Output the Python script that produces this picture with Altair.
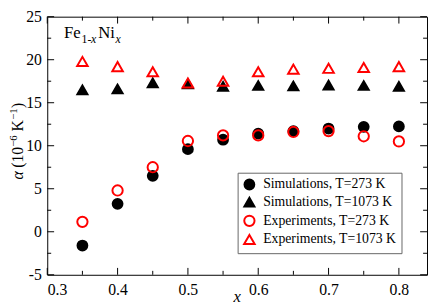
import altair as alt
import pandas as pd

# ---- data ----
x_vals = [0.35, 0.40, 0.45, 0.50, 0.55, 0.60, 0.65, 0.70, 0.75, 0.80]
sim_273 = [-1.6, 3.25, 6.5, 9.6, 10.7, 11.4, 11.7, 12.0, 12.2, 12.25]
sim_1073 = [16.5, 16.6, 17.3, 17.2, 16.9, 17.0, 16.95, 17.05, 17.0, 16.9]
exp_273 = [1.15, 4.8, 7.5, 10.55, 11.2, 11.2, 11.6, 11.7, 11.1, 10.5]
exp_1073 = [19.8, 19.2, 18.6, 17.3, 17.5, 18.6, 18.9, 19.0, 19.1, 19.2]

series_names = [
    "Simulations, T=273 K",
    "Simulations, T=1073 K",
    "Experiments, T=273 K",
    "Experiments, T=1073 K",
]
series_values = [sim_273, sim_1073, exp_273, exp_1073]

x_major = [0.3, 0.4, 0.5, 0.6, 0.7, 0.8]
x_minor = [0.35, 0.45, 0.55, 0.65, 0.75]
y_major = [-5, 0, 5, 10, 15, 20, 25]
y_minor = [-2.5, 2.5, 7.5, 12.5, 17.5, 22.5]

X_DOMAIN = [0.3, 0.84]
Y_DOMAIN = [-5, 25]
W, H = 387, 263
FONT = "Liberation Serif"

rows = []
for i, (name, vals) in enumerate(zip(series_names, series_values)):
    for xv, yv in zip(x_vals, vals):
        rows.append({"x": xv, "alpha": yv, "series": name, "ord": i})
df = pd.DataFrame(rows)

xs = alt.Scale(domain=X_DOMAIN, nice=False, zero=False)
ys = alt.Scale(domain=Y_DOMAIN, nice=False, zero=False)

x_axis = alt.Axis(values=x_major, labelExpr="format(datum.value, '.1f')", title=None)
y_axis = alt.Axis(values=y_major, labelExpr="toString(datum.value)", title=None)

points = alt.Chart(df).mark_point(filled=True, strokeWidth=2, opacity=1).encode(
    x=alt.X("x:Q", scale=xs, axis=x_axis),
    y=alt.Y("alpha:Q", scale=ys, axis=y_axis),
    shape=alt.Shape("series:N", scale=alt.Scale(domain=series_names,
                    range=["circle", "triangle-up", "circle", "triangle-up"]),
                    legend=alt.Legend(title=None)),
    fill=alt.Fill("series:N", scale=alt.Scale(domain=series_names,
                  range=["black", "black", "transparent", "transparent"]),
                  legend=alt.Legend(title=None)),
    stroke=alt.Stroke("series:N", scale=alt.Scale(domain=series_names,
                      range=["black", "black", "red", "red"]),
                      legend=alt.Legend(title=None)),
    size=alt.Size("series:N", scale=alt.Scale(domain=series_names,
                  range=[100, 115, 121, 150]),
                  legend=alt.Legend(title=None)),
    order=alt.Order("ord:Q"),
)

# ---- inward ticks drawn as line-shaped point symbols at the tick values ----
def tick_points(tx, ty, path, size):
    d = pd.DataFrame({"x": tx, "alpha": ty})
    return alt.Chart(d).mark_point(
        shape=path, size=size, filled=False, stroke="black",
        strokeWidth=1, opacity=1
    ).encode(
        x=alt.X("x:Q", scale=xs, axis=x_axis),
        y=alt.Y("alpha:Q", scale=ys, axis=y_axis),
    )

MAJ, MIN = 196, 64   # symbol sizes -> 7 px and 4 px long ticks
tick_layers = [
    tick_points(x_major, [Y_DOMAIN[0]] * len(x_major), "M0,0L0,-1", MAJ),
    tick_points(x_minor, [Y_DOMAIN[0]] * len(x_minor), "M0,0L0,-1", MIN),
    tick_points(x_major, [Y_DOMAIN[1]] * len(x_major), "M0,0L0,1", MAJ),
    tick_points(x_minor, [Y_DOMAIN[1]] * len(x_minor), "M0,0L0,1", MIN),
    tick_points([X_DOMAIN[0]] * len(y_major), y_major, "M0,0L1,0", MAJ),
    tick_points([X_DOMAIN[0]] * len(y_minor), y_minor, "M0,0L1,0", MIN),
    tick_points([X_DOMAIN[1]] * len(y_major), y_major, "M0,0L-1,0", MAJ),
    tick_points([X_DOMAIN[1]] * len(y_minor), y_minor, "M0,0L-1,0", MIN),
]

# ---- y-axis title pieces: alpha (10^-6 K^-1) ----
title_pieces = [
    ("α", 16, "italic", 0, 0),
    ("(10", 16, "normal", 12, 0),
    ("−6", 11, "normal", 33.5, -6),
    ("K", 16, "normal", 49, 0),
    ("−1", 11, "normal", 61, -6),
    (")", 16, "normal", 73, 0),
]
title_layers = [
    alt.Chart(pd.DataFrame({"a": [0]})).mark_text(
        text=t, font=FONT, fontSize=s, fontStyle=st, angle=270, align="left",
        baseline="alphabetic", dx=dx, dy=dy, color="black"
    ).encode(x=alt.value(-25), y=alt.value(166))
    for t, s, st, dx, dy in title_pieces
]

# ---- x-axis title ----
xtitle = alt.Chart(pd.DataFrame({"a": [0]})).mark_text(
    text="x", font=FONT, fontSize=17, fontStyle="italic", align="center",
    baseline="alphabetic", color="black"
).encode(x=alt.value(W / 2), y=alt.value(H + 28))

# ---- annotation Fe_{1-x}Ni_x ----
ann_pieces = [
    ("Fe", 17, "normal", 0, 0),
    ("1-", 12, "normal", 18, 5),
    ("x", 12, "italic", 27.5, 5),
    ("Ni", 17, "normal", 35, 0),
    ("x", 12, "italic", 52.5, 5),
]
ann_layers = [
    alt.Chart(pd.DataFrame({"a": [0]})).mark_text(
        text=t, font=FONT, fontSize=s, fontStyle=st, align="left",
        baseline="alphabetic", dx=dx, dy=dy, color="black"
    ).encode(x=alt.value(17), y=alt.value(22))
    for t, s, st, dx, dy in ann_pieces
]

chart = alt.layer(points, *tick_layers, *title_layers, xtitle, *ann_layers).properties(
    width=W, height=H,
    autosize=alt.AutoSizeParams(type="none"),
    padding={"left": 40, "top": 6, "right": 1, "bottom": 31},
).configure_view(
    stroke="black", strokeWidth=1
).configure_axis(
    labelFont=FONT, labelFontSize=16, labelColor="black",
    ticks=False, domain=False, grid=False, labelPadding=6,
).configure_axisX(
    labelPadding=7
).configure_legend(
    orient="none", legendX=194, legendY=159,
    labelFont=FONT, labelFontSize=14, labelColor="black",
    strokeColor="#666666", fillColor="white", padding=5,
    rowPadding=0, labelOffset=7, symbolStrokeWidth=2,
    labelLimit=300,
)

chart.save("out.html", embed_options={"renderer": "svg", "actions": False})
